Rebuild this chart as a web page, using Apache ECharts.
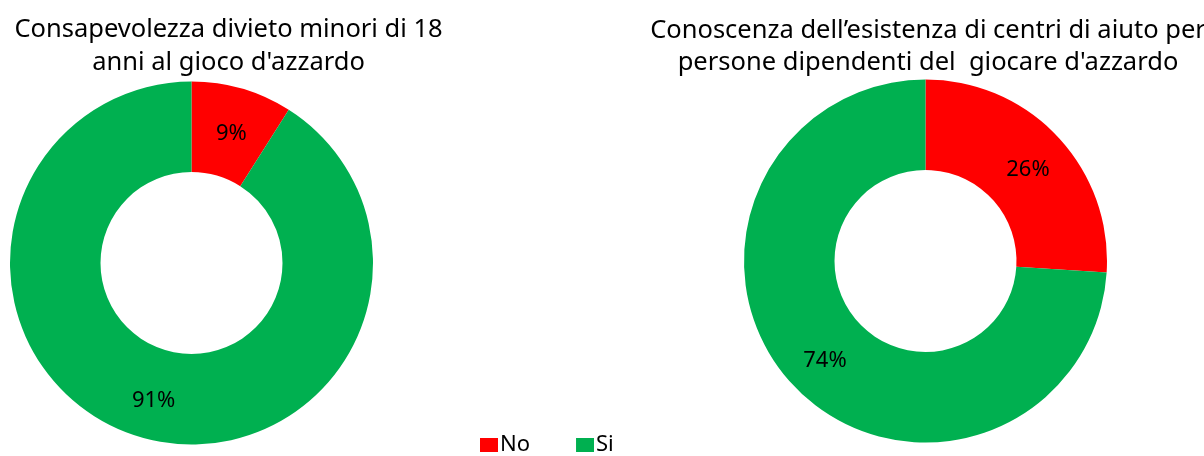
<!DOCTYPE html>
<html>
<head>
<meta charset="utf-8">
<script src="https://cdn.jsdelivr.net/npm/echarts@6/dist/echarts.min.js"></script>
<style>
html,body{margin:0;padding:0;background:#fff;}
#chart{width:1204px;height:456px;}
</style>
</head>
<body>
<div id="chart"></div>
<script>
const categories = ['No', 'Si'];
const valuesLeft = [9, 91];
const valuesRight = [26, 74];
const titleLeft = 'Consapevolezza divieto minori di 18\nanni al gioco d\'azzardo';
const titleRight = 'Conoscenza dell\u2019esistenza di centri di aiuto per\npersone dipendenti del  giocare d\'azzardo';
const colors = ['#FF0000', '#00B050'];

const FONT = 'Noto Sans';
const chart = echarts.init(document.getElementById('chart'));

function pieSeries(vals, center) {
  return {
    type: 'pie',
    center: center,
    radius: [91, 181.5],
    startAngle: 90,
    clockwise: true,
    avoidLabelOverlap: false,
    silent: true,
    animation: false,
    itemStyle: { borderWidth: 0 },
    label: {
      show: true,
      position: 'inside',
      formatter: '{d}%',
      color: '#000',
      fontFamily: FONT,
      fontSize: 22,
      offset: [1, 4]
    },
    labelLine: { show: false },
    data: categories.map((c, i) => ({ name: c, value: vals[i] }))
  };
}

chart.setOption({
  color: colors,
  animation: false,
  title: [
    {
      text: titleLeft,
      left: 223.5, top: 8, textAlign: 'center',
      textStyle: { fontFamily: FONT, fontSize: 25.5, fontWeight: 'normal', color: '#000', lineHeight: 33, align: 'center' }
    },
    {
      text: titleRight,
      left: 923, top: 10, textAlign: 'center',
      textStyle: { fontFamily: FONT, fontSize: 25.5, fontWeight: 'normal', color: '#000', lineHeight: 32, align: 'center' }
    }
  ],
  legend: {
    data: categories,
    left: 475, top: 429,
    icon: 'rect',
    itemWidth: 18, itemHeight: 14,
    itemGap: 46,
    textStyle: { fontFamily: FONT, fontSize: 22, color: '#000', padding: [0, 0, 0, -3] },
    selectedMode: false
  },
  series: [
    pieSeries(valuesLeft, [191.5, 263]),
    pieSeries(valuesRight, [925.5, 261])
  ]
});
</script>
</body>
</html>
